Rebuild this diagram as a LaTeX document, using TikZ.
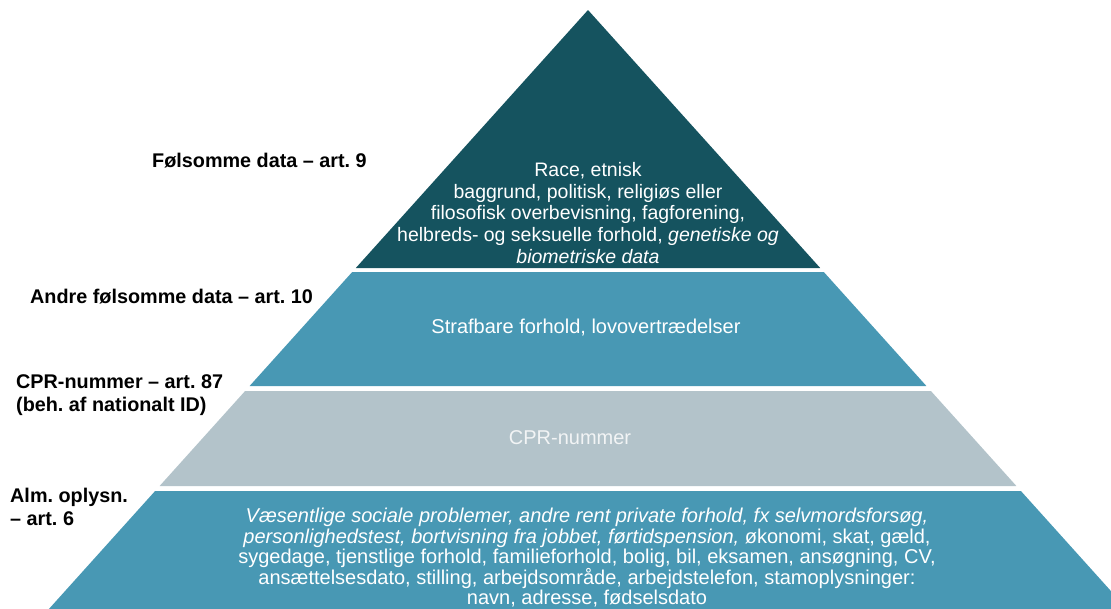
\documentclass[tikz,border=0pt]{standalone}
\usepackage{fontspec}
\setmainfont{Liberation Sans}
\frenchspacing
\definecolor{tierdark}{HTML}{15535F}
\definecolor{tiermid}{HTML}{4898B4}
\definecolor{tiergray}{HTML}{B3C3CA}
\definecolor{cprtext}{HTML}{F2F4F5}
\begin{document}
\begin{tikzpicture}[x=1pt,y=-1pt,
  tiertext/.style={text=white,align=center,inner sep=0pt,font=\fontsize{20}{20.5}\selectfont},
  toptext/.style={text=white,align=center,inner sep=0pt,font=\fontsize{19.5}{21.7}\selectfont},
  sidelabel/.style={text=black,align=left,anchor=west,inner sep=0pt,font=\fontsize{19.8}{23.5}\selectfont\bfseries}]
\useasboundingbox (0,0) rectangle (1111,608);
\clip (0,0) rectangle (1111,608);
% tiers
\fill[tierdark] (588,10) -- (820.2,268) -- (355.8,268) -- cycle;
\fill[tiermid] (352.2,272) -- (823.8,272) -- (926.4,386) -- (249.6,386) -- cycle;
\fill[tiergray] (245.1,391) -- (930.9,391) -- (1016.4,486) -- (159.6,486) -- cycle;
\fill[tiermid] (155.1,491) -- (1020.9,491) -- (1137,620) -- (39,620) -- cycle;
% tier texts
\node[toptext] (t1) at (588,213) {Race, etnisk\\baggrund, politisk, religiøs eller\\filosofisk overbevisning, fagforening,\\helbreds- og seksuelle forhold, \textit{genetiske og}\\\textit{biometriske data}};
\node[tiertext] (t2) at (586,328) {Strafbare forhold, lovovertrædelser};
\node[tiertext,text=cprtext] (t3) at (570,438) {CPR-nummer};
\node[tiertext,anchor=north] (t4) at (587,508) {\textit{Væsentlige sociale problemer, andre rent private forhold, fx selvmordsforsøg,}\\\textit{personlighedstest, bortvisning fra jobbet, førtidspension,} økonomi, skat, gæld,\\sygedage, tjenstlige forhold, familieforhold, bolig, bil, eksamen, ansøgning, CV,\\ansættelsesdato, stilling, arbejdsområde, arbejdstelefon, stamoplysninger:\\navn, adresse, fødselsdato};
% side labels
\node[sidelabel] (l1) at (152,161) {Følsomme data – art. 9};
\node[sidelabel] (l2) at (30,297) {Andre følsomme data – art. 10};
\node[sidelabel] (l3) at (16,395) {CPR-nummer – art. 87\\(beh. af nationalt ID)};
\node[sidelabel] (l4) at (10,507) {Alm. oplysn.\\– art. 6};
\end{tikzpicture}
\end{document}
